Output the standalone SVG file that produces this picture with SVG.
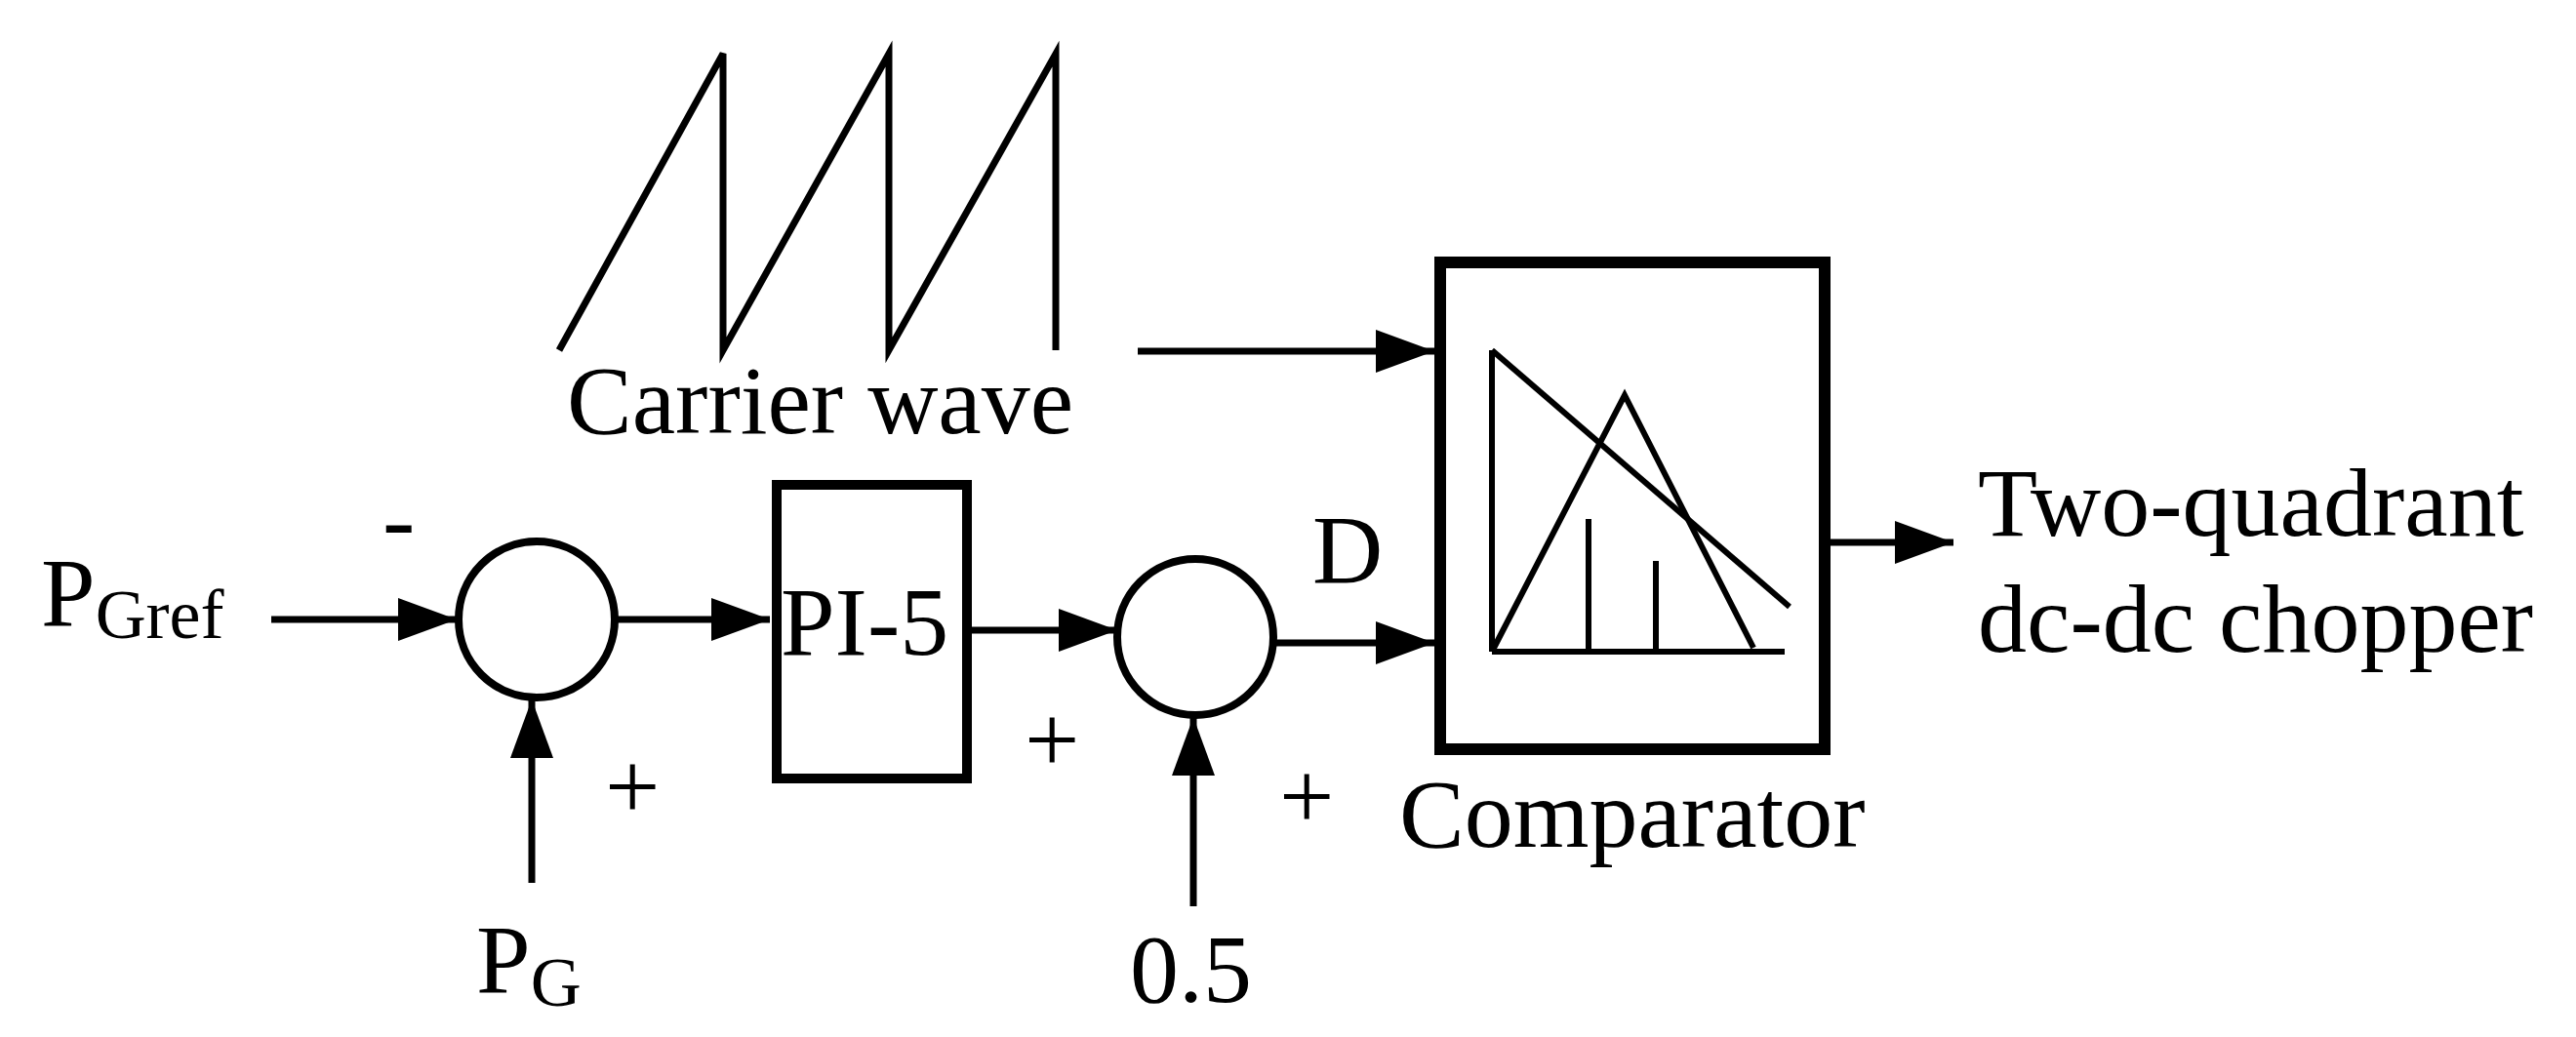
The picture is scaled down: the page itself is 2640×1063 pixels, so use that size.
<svg xmlns="http://www.w3.org/2000/svg" width="2640" height="1063" viewBox="0 0 2640 1063">
<defs>
<marker id="ah" markerUnits="userSpaceOnUse" markerWidth="60" markerHeight="44" refX="60" refY="22" orient="auto"><path d="M0,0 L60,22 L0,44 Z" fill="#000"/></marker>
<style>
.w{stroke:#000;stroke-width:7;fill:none}
.c{stroke:#000;stroke-width:8;fill:#fff}
.a{stroke:#000;stroke-width:7;fill:none;marker-end:url(#ah)}
.t{font-family:"Liberation Serif",serif;font-size:100px;fill:#000}
.s{font-size:72px}
.th{stroke:#000;stroke-width:6;fill:none}
</style>
</defs>
<rect width="2640" height="1063" fill="#fff"/>
<g id="carrier">
<polyline class="w" points="573,359 741,55 741,359 911,55 911,359 1082,55 1082,359"/>
<text class="t" x="581" y="444">Carrier wave</text>
</g>
<g id="pgref"><text class="t" x="42" y="641">P<tspan class="s" y="654">Gref</tspan></text></g>
<g id="pg"><text class="t" x="488" y="1017">P<tspan class="s" y="1031">G</tspan></text></g>
<g id="half"><text class="t" x="1158" y="1027">0.5</text></g>
<g id="sum1"><circle class="c" cx="550" cy="635" r="80"/></g>
<g id="pi"><rect x="796" y="497" width="195" height="301" fill="#fff" stroke="#000" stroke-width="10"/><text class="t" x="800" y="671">PI-5</text></g>
<g id="sum2"><circle class="c" cx="1225" cy="653" r="80"/></g>
<g id="comparator">
<rect x="1476" y="269" width="394" height="499" fill="#fff" stroke="#000" stroke-width="12"/>
<line class="th" x1="1529" y1="359" x2="1529" y2="668"/>
<line class="th" x1="1529" y1="668" x2="1829" y2="668"/>
<line class="th" x1="1529" y1="359" x2="1834" y2="622"/>
<polyline class="th" points="1529,668 1665,405 1797,664"/>
<line class="th" x1="1628" y1="532" x2="1628" y2="668"/>
<line class="th" x1="1697" y1="575" x2="1697" y2="668"/>
<text class="t" x="1434" y="868">Comparator</text>
</g>
<g id="output"><text class="t" x="2027" y="549">Two-quadrant</text><text class="t" x="2027" y="668">dc-dc chopper</text></g>
<g id="labels">
<text class="t" x="392" y="566">-</text>
<text class="t" x="620" y="840">+</text>
<text class="t" x="1050" y="792">+</text>
<text class="t" x="1311" y="850">+</text>
<text class="t" x="1345" y="597">D</text>
</g>
<g id="connectors">
<line class="a" x1="1166" y1="360" x2="1470" y2="360"/>
<line class="a" x1="278" y1="635" x2="468" y2="635"/>
<line class="a" x1="630" y1="635" x2="789" y2="635"/>
<line class="a" x1="996" y1="646" x2="1145" y2="646"/>
<line class="a" x1="1305" y1="659" x2="1470" y2="659"/>
<line class="a" x1="545" y1="905" x2="545" y2="717"/>
<line class="a" x1="1223" y1="929" x2="1223" y2="735"/>
<line class="a" x1="1876" y1="556" x2="2002" y2="556"/>
</g>
</svg>
